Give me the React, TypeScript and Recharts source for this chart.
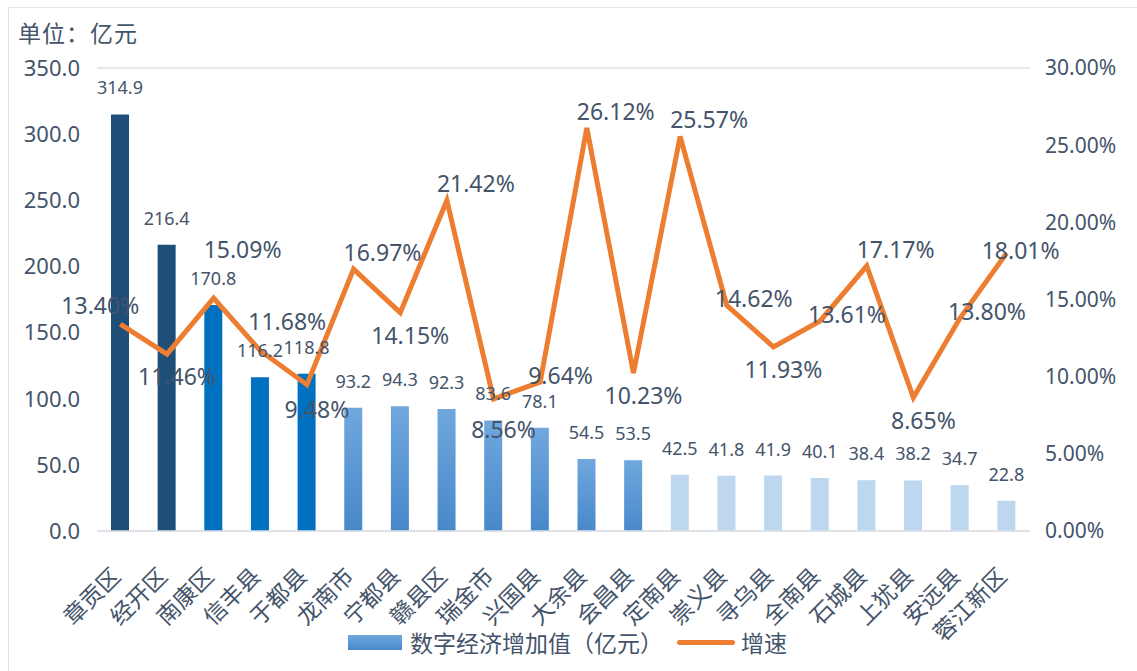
import React from 'react';
import { ComposedChart, Bar, Line, XAxis, YAxis, CartesianGrid, LabelList, Cell } from 'recharts';

const regions = [
  '章贡区', '经开区', '南康区', '信丰县', '于都县', '龙南市', '宁都县', '赣县区', '瑞金市', '兴国县',
  '大余县', '会昌县', '定南县', '崇义县', '寻乌县', '全南县', '石城县', '上犹县', '安远县', '蓉江新区',
];
const addedValue = [
  314.9, 216.4, 170.8, 116.2, 118.8, 93.2, 94.3, 92.3, 83.6, 78.1,
  54.5, 53.5, 42.5, 41.8, 41.9, 40.1, 38.4, 38.2, 34.7, 22.8,
];
const growthRate = [
  13.4, 11.46, 15.09, 11.68, 9.48, 16.97, 14.15, 21.42, 8.56, 9.64,
  26.12, 10.23, 25.57, 14.62, 11.93, 13.61, 17.17, 8.65, 13.8, 18.01,
];
const leftTicks = [0, 50, 100, 150, 200, 250, 300, 350];
const rightTicks = [0, 5, 10, 15, 20, 25, 30];

const data = regions.map((name, i) => ({ name, value: addedValue[i], rate: growthRate[i] }));

const FONT = "'Noto Sans', 'Noto Sans CJK SC', sans-serif";
const TEXT = '#44546A';
const ORANGE = '#ED7D31';

const CHART_W = 1137;
const CHART_H = 671;
const MARGIN = { top: 68, right: 17, bottom: 40, left: 17 };
const X_AXIS_H = 100;
const LEFT_AXIS_W = 80;
const RIGHT_AXIS_W = 90;
const LEFT_MAX = leftTicks[leftTicks.length - 1];
const RIGHT_MAX = rightTicks[rightTicks.length - 1];
const BAR_LABEL_OFFSET = 20;

// plot area, derived from the same numbers handed to the chart
const plotTop = MARGIN.top;
const plotH = CHART_H - MARGIN.top - MARGIN.bottom - X_AXIS_H;
const band = (CHART_W - MARGIN.left - MARGIN.right - LEFT_AXIS_W - RIGHT_AXIS_W) / regions.length;
const barLabelBase = (i: number) => plotTop + plotH - (addedValue[i] / LEFT_MAX) * plotH - BAR_LABEL_OFFSET;

function barFill(v: number) {
  if (v > 200) return '#1F4E79';
  if (v > 100) return '#0070C0';
  if (v > 50) return 'url(#midBlue)';
  return '#BDD7EE';
}

const XTick = (props: any) => {
  const { x, y, payload } = props;
  return (
    <g transform={`translate(${x - 4},${y + 33})`}>
      <text textAnchor="end" dy="0.35em" transform="rotate(-45)" fill={TEXT} fontSize={23} fontFamily={FONT}>
        {payload.value}
      </text>
    </g>
  );
};

// peaks get the label above, troughs below, everything else beside the point;
// labels are nudged off the bar value labels they would sit on
const RateLabel = (props: any) => {
  const { x, y, index, value } = props;
  const last = growthRate.length - 1;
  const prev = index > 0 ? growthRate[index - 1] : -Infinity;
  const next = index < last ? growthRate[index + 1] : -Infinity;
  const cur = growthRate[index];
  let tx = x - 12;
  let ty = y + 2;
  let anchor: 'start' | 'middle' | 'end' = 'start';
  let trough = false;
  if (index === 0) {
    tx = x - 20;
    ty = y - 10;
    anchor = 'middle';
  } else if (index === last) {
    tx = x - 25;
    ty = y + 6;
  } else if (cur >= prev && cur >= next) {
    tx = x - 10;
    ty = y - 8;
  } else if (cur <= prev && cur <= next) {
    tx = x + 10;
    ty = y + 31;
    anchor = 'middle';
    trough = true;
  }
  const own = barLabelBase(index);
  if (ty > own - 15 && ty < own + 17) ty = own - 27;
  if (trough && index < last) {
    const nb = barLabelBase(index + 1);
    const reaches = tx + 40 > x + band - 20;
    if (reaches && ty - 25 < nb + 5 && ty > nb - 19) ty = nb + 30;
  }
  return (
    <text x={tx} y={ty} textAnchor={anchor} fill={TEXT} fontSize={23} fontFamily={FONT}>
      {Number(value).toFixed(2)}%
    </text>
  );
};

export default function App() {
  return (
    <div style={{ position: 'absolute', left: 0, top: 0, width: CHART_W, height: CHART_H, overflow: 'hidden', background: '#fff' }}>
      <div style={{ position: 'absolute', left: 8, top: 7, width: 1140, height: 680, border: '1px solid #E0E3E8', boxSizing: 'border-box' }} />
      <div style={{ position: 'absolute', left: 18, top: 15, fontSize: 23, letterSpacing: 1, color: TEXT, fontFamily: FONT }}>单位：亿元</div>
      <ComposedChart width={CHART_W} height={CHART_H} data={data} margin={MARGIN} style={{ position: 'absolute', left: 0, top: 0 }}>
        <defs>
          <linearGradient id="midBlue" x1="0" y1="0" x2="0" y2="1">
            <stop offset="0%" stopColor="#70A8DE" />
            <stop offset="100%" stopColor="#4888CA" />
          </linearGradient>
        </defs>
        <CartesianGrid vertical={false} stroke="#DDE1E6" strokeWidth={1.5} />
        <XAxis dataKey="name" interval={0} height={X_AXIS_H} tick={<XTick />} tickLine={false} axisLine={{ stroke: '#DDE1E6', strokeWidth: 1.5 }} />
        <YAxis yAxisId="left" width={LEFT_AXIS_W} domain={[0, LEFT_MAX]} ticks={leftTicks} tickFormatter={(v: number) => v.toFixed(1)}
          axisLine={false} tickLine={false} tickSize={6} tickMargin={11}
          tick={{ fill: TEXT, fontSize: 22, fontFamily: FONT }} />
        <YAxis yAxisId="right" orientation="right" width={RIGHT_AXIS_W} domain={[0, RIGHT_MAX]} ticks={rightTicks} tickFormatter={(v: number) => v.toFixed(2) + '%'}
          axisLine={false} tickLine={false} tickSize={6} tickMargin={9}
          tick={{ fill: TEXT, fontSize: 21, fontFamily: FONT, textAnchor: 'start' }} />
        <Bar yAxisId="left" dataKey="value" barSize={18} isAnimationActive={false}>
          {data.map((d, i) => (
            <Cell key={i} fill={barFill(d.value)} />
          ))}
          <LabelList dataKey="value" position="top" offset={BAR_LABEL_OFFSET} fill={TEXT} fontSize={18} fontFamily={FONT}
            formatter={(v: any) => Number(v).toFixed(1)} />
        </Bar>
        <Line yAxisId="right" dataKey="rate" stroke={ORANGE} strokeWidth={5} dot={false} activeDot={false} isAnimationActive={false}
          label={<RateLabel />} />
      </ComposedChart>
      <div style={{ position: 'absolute', left: 348, top: 625, display: 'flex', alignItems: 'center', fontSize: 23, color: TEXT, fontFamily: FONT, whiteSpace: 'nowrap' }}>
        <span style={{ display: 'inline-block', width: 54, height: 15, background: 'linear-gradient(#70A8DE, #4888CA)', marginRight: 8 }} />
        <span>数字经济增加值（亿元）</span>
        <span style={{ display: 'inline-block', width: 58, height: 5, borderRadius: 3, background: ORANGE, margin: '0 6px 0 14px' }} />
        <span>增速</span>
      </div>
    </div>
  );
}
